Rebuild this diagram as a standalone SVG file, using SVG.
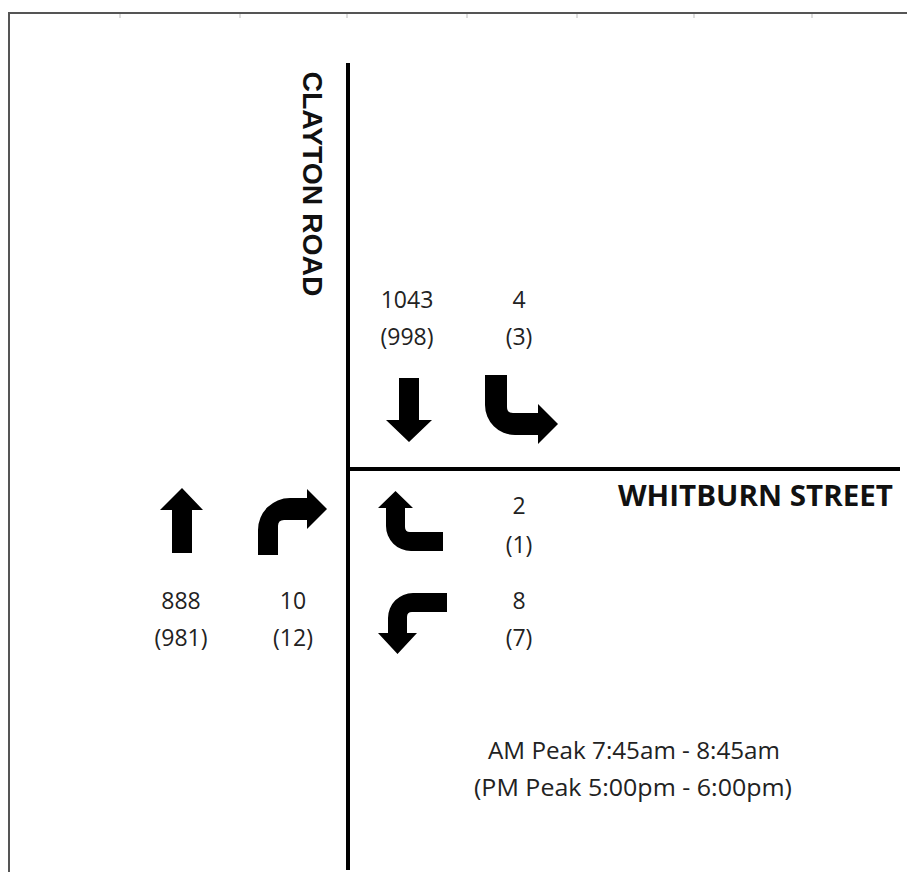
<svg xmlns="http://www.w3.org/2000/svg" width="907" height="875" viewBox="0 0 907 875">
<style>
.frame{stroke:#555;stroke-width:2;fill:none}
.tick{stroke:#bbb;stroke-width:1}
.road{stroke:#000;stroke-width:4;fill:none}
.arrow{fill:#000}
.num{font-family:"Open Sans","Noto Sans",sans-serif;font-size:23px;fill:#222;text-anchor:middle}
.name{font-weight:bold;fill:#111}
</style>
<rect width="907" height="875" fill="#fff"/>
<g id="frame">
<path class="frame" d="M9,872 V13 H907"/>
<path class="tick" d="M120,14V18M240,14V18M347,14V18M467,14V18M577,14V18M694,14V18M812,14V18"/>
</g>
<g id="connectors">
<line class="road" x1="348" y1="63" x2="348" y2="870"/>
<line class="road" x1="348" y1="469" x2="900" y2="469"/>
</g>
<g id="clayton-road">
<text class="name" transform="translate(303,184) rotate(90)" text-anchor="middle" font-family="'Liberation Sans',Arial,sans-serif" font-size="28" textLength="225" lengthAdjust="spacingAndGlyphs">CLAYTON ROAD</text>
</g>
<g id="whitburn-street">
<text class="name" x="618" y="506" font-family="'Open Sans','Noto Sans',sans-serif" font-size="28" textLength="275" lengthAdjust="spacingAndGlyphs">WHITBURN STREET</text>
</g>
<g id="sb-through">
<text class="num" x="407" y="308">1043</text>
<text class="num" x="407" y="345">(998)</text>
<path class="arrow" d="M399,378 L419,378 L419,420 L432,420 L409,442 L386,420 L399,420 Z"/>
</g>
<g id="sb-left">
<text class="num" x="519" y="308">4</text>
<text class="num" x="519" y="345">(3)</text>
<path class="arrow" d="M485,375 L507,375 L507,407 Q507,413 513,413 L538,413 L538,404 L558,424 L538,444 L538,435 L515,435 A30,30 0 0 1 485,405 Z"/>
</g>
<g id="nb-through">
<path class="arrow" d="M172,553 L192,553 L192,510 L203,510 L182,488 L160,510 L172,510 Z"/>
<text class="num" x="181" y="609">888</text>
<text class="num" x="181" y="646">(981)</text>
</g>
<g id="nb-right">
<path class="arrow" d="M258,555 L258,530 A32,32 0 0 1 290,498 L307,498 L307,489 L327,509 L307,529 L307,520 L284,520 Q278,520 278,526 L278,555 Z"/>
<text class="num" x="293" y="609">10</text>
<text class="num" x="293" y="646">(12)</text>
</g>
<g id="wb-right">
<path class="arrow" d="M378,508 L395.5,491 L413,508 L405,508 L405,527 Q405,532 410,532 L443,532 L443,551 L411,551 A25,25 0 0 1 386,526 L386,508 Z"/>
<text class="num" x="519" y="514">2</text>
<text class="num" x="519" y="553">(1)</text>
</g>
<g id="wb-left">
<path class="arrow" d="M447,593 L447,612 L412,612 Q407,612 407,617 L407,633 L417,633 L397.5,654 L378,633 L388,633 L388,618 A25,25 0 0 1 413,593 Z"/>
<text class="num" x="519" y="609">8</text>
<text class="num" x="519" y="646">(7)</text>
</g>
<g id="peak-note">
<text class="num" x="634" y="759" textLength="292" lengthAdjust="spacingAndGlyphs">AM Peak 7:45am - 8:45am</text>
<text class="num" x="633" y="796" textLength="318" lengthAdjust="spacingAndGlyphs">(PM Peak 5:00pm - 6:00pm)</text>
</g>
</svg>
